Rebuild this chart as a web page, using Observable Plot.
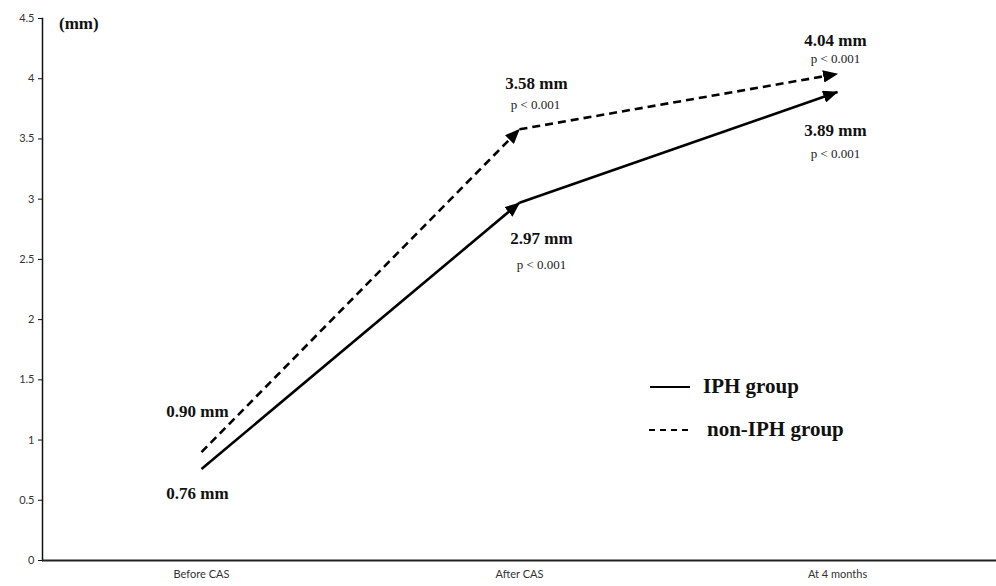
<!DOCTYPE html>
<html><head><meta charset="utf-8">
<script src="https://cdn.jsdelivr.net/npm/d3@7"></script>
<script src="https://cdn.jsdelivr.net/npm/@observablehq/plot@0.6"></script>
<style>
body{margin:0;background:#fff;}
#wrap{position:relative;width:996px;height:586px;}
.unit{position:absolute;left:59px;top:15px;font:bold 17px "Liberation Serif",serif;color:#111;line-height:1;}
.leg{position:absolute;font:bold 21px "Liberation Serif",serif;color:#111;display:flex;align-items:center;line-height:1;}
.leg svg{display:block;}
</style></head>
<body><div id="wrap"></div>
<script>
const categories = ["Before CAS", "After CAS", "At 4 months"];
const iphValues = [0.76, 2.97, 3.89];
const nonIphValues = [0.90, 3.58, 4.04];
const groups = ["IPH group", "non-IPH group"];
const pLabel = "p < 0.001";
const yTicks = [0, 0.5, 1, 1.5, 2, 2.5, 3, 3.5, 4, 4.5];

function segmentsOf(group, values) {
  const out = [];
  for (let i = 1; i < values.length; i++) {
    out.push({group, x1: categories[i - 1], y1: values[i - 1], x2: categories[i], y2: values[i]});
  }
  return out;
}
const iphSeg = segmentsOf(groups[0], iphValues);
const nonSeg = segmentsOf(groups[1], nonIphValues);
const pt = (values, i) => [{cat: categories[i], value: values[i], label: values[i].toFixed(2) + " mm", p: pLabel}];

function arrowHead(color) {
  return d3.create("svg:marker")
    .attr("viewBox", "0 -5 12 10")
    .attr("markerWidth", 15).attr("markerHeight", 12.5)
    .attr("markerUnits", "userSpaceOnUse")
    .attr("refX", 11.5).attr("refY", 0)
    .attr("orient", "auto")
    .attr("fill", color).attr("stroke", "none")
    .call(m => m.append("path").attr("d", "M0,-5L12,0L0,5Z"))
    .node();
}

const valStyle = {x: "cat", y: "value", text: "label", fontFamily: "Liberation Serif, serif", fontWeight: "bold", fontSize: 17, fill: "#111"};
const pStyle = {x: "cat", y: "value", text: "p", fontFamily: "Liberation Serif, serif", fontSize: 13, fill: "#222"};

const chart = Plot.plot({
  width: 996, height: 586,
  marginLeft: 42, marginRight: 0, marginTop: 18, marginBottom: 26,
  style: {fontFamily: "Lato, sans-serif", fontSize: "11px", color: "#333", background: "#fff"},
  x: {type: "point", domain: categories, padding: 0.5, label: null},
  y: {domain: [0, 4.5], label: null},
  marks: [
    Plot.axisY({ticks: yTicks, tickSize: 4, tickPadding: 4, tickFormat: d => String(d), label: null, stroke: "#111"}),
    Plot.axisX({tickSize: 0, tickPadding: 10, label: null}),
    Plot.frame({anchor: "left", stroke: "#111", strokeWidth: 1.5}),
    Plot.ruleY([0], {stroke: "#222", strokeWidth: 2}),
    Plot.link(nonSeg, {x1: "x1", y1: "y1", x2: "x2", y2: "y2", stroke: "#000", strokeWidth: 2.6, strokeDasharray: "8,5", markerEnd: arrowHead}),
    Plot.link(iphSeg, {x1: "x1", y1: "y1", x2: "x2", y2: "y2", stroke: "#000", strokeWidth: 2.6, markerEnd: arrowHead}),
    Plot.text(pt(nonIphValues, 0), {...valStyle, dx: -4, dy: -41}),
    Plot.text(pt(iphValues, 0), {...valStyle, dx: -4, dy: 25}),
    Plot.text(pt(nonIphValues, 1), {...valStyle, dx: 17, dy: -46}),
    Plot.text(pt(nonIphValues, 1), {...pStyle, dx: 16, dy: -24}),
    Plot.text(pt(iphValues, 1), {...valStyle, dx: 22, dy: 36}),
    Plot.text(pt(iphValues, 1), {...pStyle, dx: 22, dy: 62}),
    Plot.text(pt(nonIphValues, 2), {...valStyle, dx: -2, dy: -33}),
    Plot.text(pt(nonIphValues, 2), {...pStyle, dx: -2, dy: -15}),
    Plot.text(pt(iphValues, 2), {...valStyle, dx: -2, dy: 39}),
    Plot.text(pt(iphValues, 2), {...pStyle, dx: -2, dy: 62})
  ]
});
const wrap = document.getElementById("wrap");
wrap.appendChild(chart);

const unit = document.createElement("div");
unit.className = "unit";
unit.textContent = "(mm)";
wrap.appendChild(unit);

function legendRow(label, dash, left, top, gap) {
  const row = document.createElement("div");
  row.className = "leg";
  row.style.left = left + "px";
  row.style.top = top + "px";
  const sw = d3.create("svg").attr("width", 42).attr("height", 10);
  sw.append("line").attr("x1", 0).attr("x2", 40).attr("y1", 5).attr("y2", 5)
    .attr("stroke", "#000").attr("stroke-width", 2).attr("stroke-dasharray", dash);
  row.appendChild(sw.node());
  const t = document.createElement("span");
  t.style.marginLeft = gap + "px";
  t.textContent = label;
  row.appendChild(t);
  wrap.appendChild(row);
}
legendRow(groups[0], null, 650, 376, 11);
legendRow(groups[1], "6,5", 649, 419, 16);
</script>
</body></html>
